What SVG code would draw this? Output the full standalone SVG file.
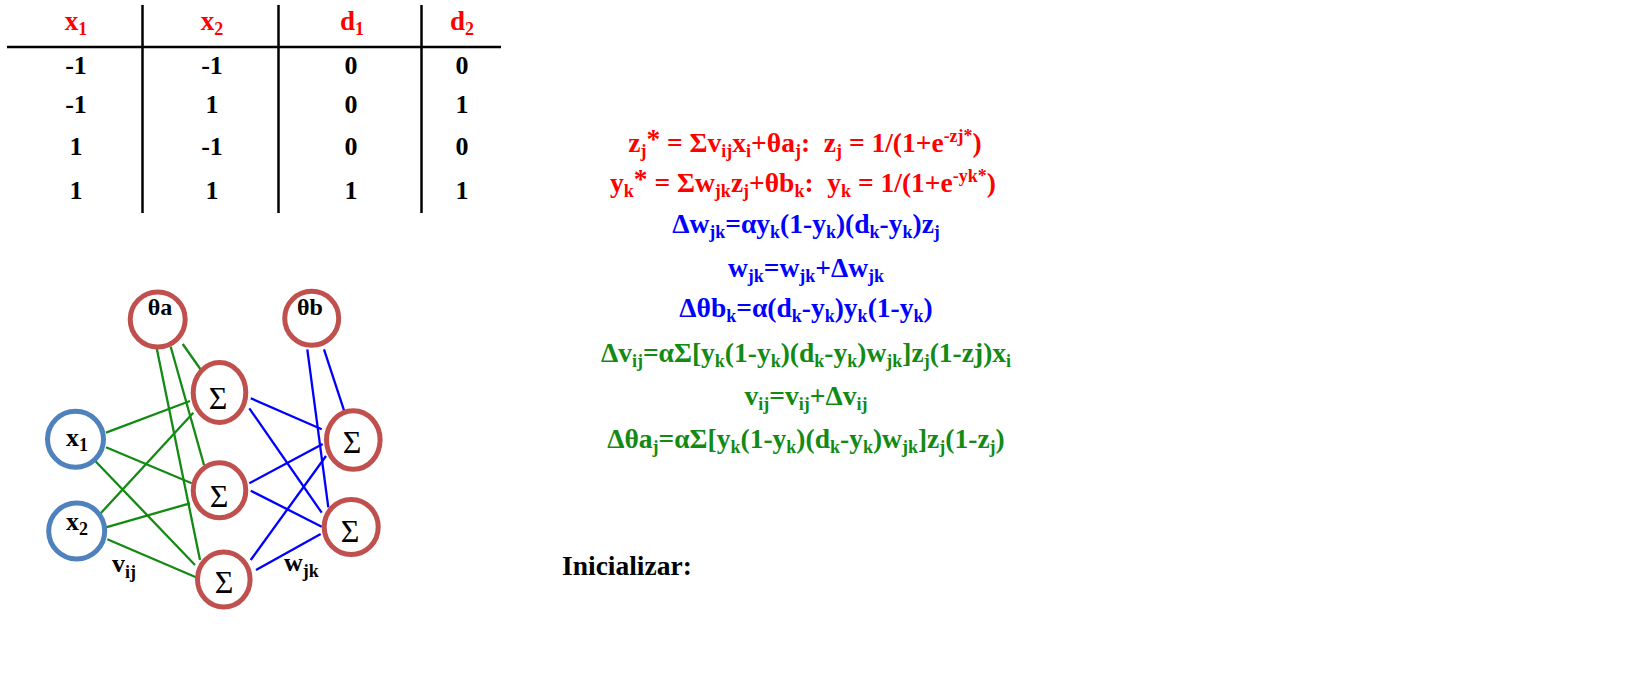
<svg xmlns="http://www.w3.org/2000/svg" width="1652" height="677" viewBox="0 0 1652 677">
<style>
.t{font-family:"Liberation Serif","Times New Roman",serif;font-weight:bold;font-size:27.5px}
.c{text-anchor:middle}
.r{fill:#FF0000}.b{fill:#0000FF}.g{fill:#138A13}.k{fill:#000}
.s{font-size:18px}
.sig{font-family:"Liberation Serif","DejaVu Serif",serif;font-size:32px;text-anchor:middle;fill:#000}
.rule{stroke:#000;stroke-width:2.5}
.red{fill:#fff;stroke:#C0504D;stroke-width:5}
.blu{fill:#fff;stroke:#4F81BD;stroke-width:5}
.gl{stroke:#138A13;stroke-width:2.3}
.bl{stroke:#0000FF;stroke-width:2.3}
</style>
<rect width="1652" height="677" fill="#fff"/>
<g id="table">
<line class="rule" x1="7" y1="47" x2="501" y2="47"/>
<line class="rule" x1="142.5" y1="5" x2="142.5" y2="213"/>
<line class="rule" x1="278.5" y1="5" x2="278.5" y2="213"/>
<line class="rule" x1="421.5" y1="5" x2="421.5" y2="213"/>
<text class="t r c" x="76" y="30" style="font-size:27px">x<tspan class="s" baseline-shift="-5">1</tspan></text>
<text class="t r c" x="212" y="30" style="font-size:27px">x<tspan class="s" baseline-shift="-5">2</tspan></text>
<text class="t r c" x="352" y="30" style="font-size:27px">d<tspan class="s" baseline-shift="-5">1</tspan></text>
<text class="t r c" x="462" y="30" style="font-size:27px">d<tspan class="s" baseline-shift="-5">2</tspan></text>
<g class="t k c" style="font-size:26px">
<text x="76" y="74">-1</text><text x="212" y="74">-1</text><text x="351" y="74">0</text><text x="462" y="74">0</text>
<text x="76" y="113">-1</text><text x="212" y="113">1</text><text x="351" y="113">0</text><text x="462" y="113">1</text>
<text x="76" y="155">1</text><text x="212" y="155">-1</text><text x="351" y="155">0</text><text x="462" y="155">0</text>
<text x="76" y="199">1</text><text x="212" y="199">1</text><text x="351" y="199">1</text><text x="462" y="199">1</text>
</g>
</g>
<g id="connectors">
<line class="gl" x1="156.7" y1="348.3" x2="200" y2="560"/>
<line class="gl" x1="170.7" y1="346.7" x2="204" y2="465"/>
<line class="gl" x1="182.7" y1="344" x2="201" y2="370"/>
<line class="gl" x1="106" y1="432.7" x2="190" y2="401"/>
<line class="gl" x1="106" y1="447.3" x2="191.7" y2="483.3"/>
<line class="gl" x1="95" y1="460.7" x2="195" y2="565"/>
<line class="gl" x1="100.7" y1="513.3" x2="193.3" y2="412.7"/>
<line class="gl" x1="106" y1="527.3" x2="190" y2="503.3"/>
<line class="gl" x1="107.3" y1="539.3" x2="196" y2="577.3"/>
<line class="bl" x1="250.7" y1="398.3" x2="321.7" y2="429.3"/>
<line class="bl" x1="249.3" y1="408.3" x2="321.7" y2="512.7"/>
<line class="bl" x1="249.3" y1="483.3" x2="322.7" y2="444"/>
<line class="bl" x1="250.7" y1="490.7" x2="321.7" y2="526.7"/>
<line class="bl" x1="250.7" y1="560" x2="326" y2="456"/>
<line class="bl" x1="256" y1="570" x2="320.7" y2="534"/>
<line class="bl" x1="307.3" y1="349.3" x2="328.3" y2="507.3"/>
<line class="bl" x1="324" y1="349.3" x2="345" y2="413.3"/>
</g>
<g id="thetaA"><circle class="red" cx="157.7" cy="319.5" r="27.5"/><text class="t k c" x="160" y="315" style="font-size:24px">θa</text></g>
<g id="thetaB"><circle class="red" cx="311.7" cy="318.3" r="27"/><text class="t k c" x="310" y="315" style="font-size:24px">θb</text></g>
<g id="x1"><circle class="blu" cx="75.5" cy="439.2" r="28"/><text class="t k c" x="77" y="446" style="font-size:26px">x<tspan class="s" baseline-shift="-5">1</tspan></text></g>
<g id="x2"><circle class="blu" cx="76.7" cy="531" r="28"/><text class="t k c" x="77" y="530" style="font-size:26px">x<tspan class="s" baseline-shift="-5">2</tspan></text></g>
<g id="h1"><ellipse class="red" cx="219.5" cy="392.5" rx="26.3" ry="30"/><text class="sig" x="218" y="409">Σ</text></g>
<g id="h2"><ellipse class="red" cx="219.5" cy="490.3" rx="26.3" ry="27.5"/><text class="sig" x="219" y="507">Σ</text></g>
<g id="h3"><ellipse class="red" cx="223.8" cy="579.5" rx="26.3" ry="27.5"/><text class="sig" x="224" y="592.5">Σ</text></g>
<g id="o1"><ellipse class="red" cx="353.3" cy="440" rx="26.8" ry="29.3"/><text class="sig" x="352" y="452.5">Σ</text></g>
<g id="o2"><ellipse class="red" cx="351.2" cy="527" rx="27" ry="27.5"/><text class="sig" x="350" y="541.5">Σ</text></g>
<text class="t k" x="112" y="572" style="font-size:26px">v<tspan class="s" baseline-shift="-6">ij</tspan></text>
<text class="t k" x="284" y="571" style="font-size:26px">w<tspan class="s" baseline-shift="-6">jk</tspan></text>
<g id="formulas" class="t c">
<text class="r" x="805" y="152">z<tspan class="s" baseline-shift="-5">j</tspan><tspan baseline-shift="4">*</tspan> = Σv<tspan class="s" baseline-shift="-5">ij</tspan>x<tspan class="s" baseline-shift="-5">i</tspan>+θa<tspan class="s" baseline-shift="-5">j</tspan>:&#160; z<tspan class="s" baseline-shift="-5">j</tspan> = 1/(1+e<tspan class="s" baseline-shift="10">-zj*</tspan>)</text>
<text class="r" x="803" y="192">y<tspan class="s" baseline-shift="-5">k</tspan><tspan baseline-shift="4">*</tspan> = Σw<tspan class="s" baseline-shift="-5">jk</tspan>z<tspan class="s" baseline-shift="-5">j</tspan>+θb<tspan class="s" baseline-shift="-5">k</tspan>:&#160; y<tspan class="s" baseline-shift="-5">k</tspan> = 1/(1+e<tspan class="s" baseline-shift="10">-yk*</tspan>)</text>
<text class="b" x="806" y="233">Δw<tspan class="s" baseline-shift="-5">jk</tspan>=αy<tspan class="s" baseline-shift="-5">k</tspan>(1-y<tspan class="s" baseline-shift="-5">k</tspan>)(d<tspan class="s" baseline-shift="-5">k</tspan>-y<tspan class="s" baseline-shift="-5">k</tspan>)z<tspan class="s" baseline-shift="-5">j</tspan></text>
<text class="b" x="806" y="277">w<tspan class="s" baseline-shift="-5">jk</tspan>=w<tspan class="s" baseline-shift="-5">jk</tspan>+Δw<tspan class="s" baseline-shift="-5">jk</tspan></text>
<text class="b" x="806" y="317">Δθb<tspan class="s" baseline-shift="-5">k</tspan>=α(d<tspan class="s" baseline-shift="-5">k</tspan>-y<tspan class="s" baseline-shift="-5">k</tspan>)y<tspan class="s" baseline-shift="-5">k</tspan>(1-y<tspan class="s" baseline-shift="-5">k</tspan>)</text>
<text class="g" x="806" y="362">Δv<tspan class="s" baseline-shift="-5">ij</tspan>=αΣ[y<tspan class="s" baseline-shift="-5">k</tspan>(1-y<tspan class="s" baseline-shift="-5">k</tspan>)(d<tspan class="s" baseline-shift="-5">k</tspan>-y<tspan class="s" baseline-shift="-5">k</tspan>)w<tspan class="s" baseline-shift="-5">jk</tspan>]z<tspan class="s" baseline-shift="-5">j</tspan>(1-zj)x<tspan class="s" baseline-shift="-5">i</tspan></text>
<text class="g" x="806" y="405">v<tspan class="s" baseline-shift="-5">ij</tspan>=v<tspan class="s" baseline-shift="-5">ij</tspan>+Δv<tspan class="s" baseline-shift="-5">ij</tspan></text>
<text class="g" x="806" y="448">Δθa<tspan class="s" baseline-shift="-5">j</tspan>=αΣ[y<tspan class="s" baseline-shift="-5">k</tspan>(1-y<tspan class="s" baseline-shift="-5">k</tspan>)(d<tspan class="s" baseline-shift="-5">k</tspan>-y<tspan class="s" baseline-shift="-5">k</tspan>)w<tspan class="s" baseline-shift="-5">jk</tspan>]z<tspan class="s" baseline-shift="-5">j</tspan>(1-z<tspan class="s" baseline-shift="-5">j</tspan>)</text>
</g>
<text class="t k" x="562" y="575">Inicializar:</text>
</svg>
